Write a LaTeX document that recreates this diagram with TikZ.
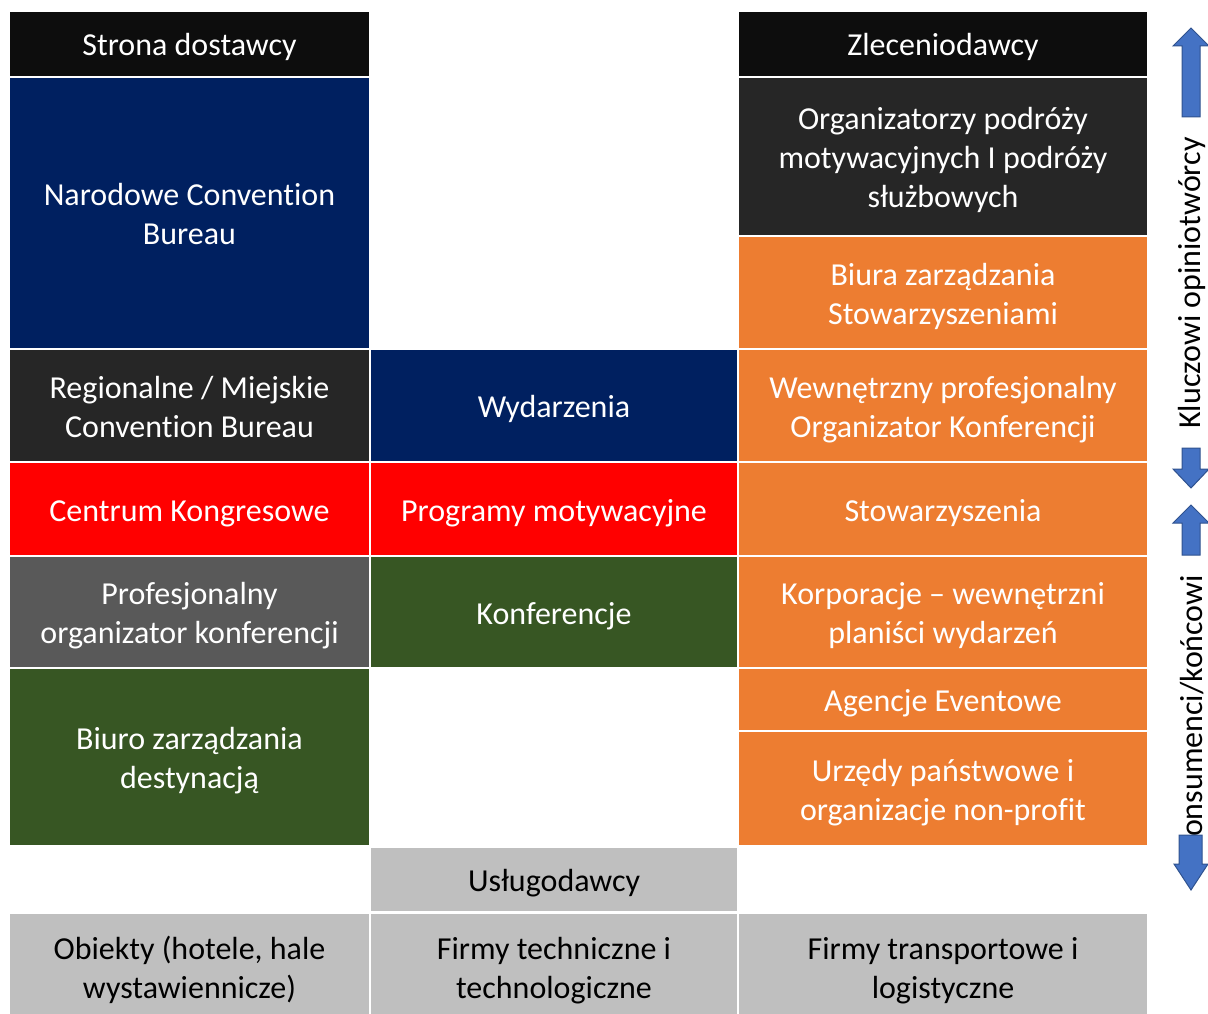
\documentclass[tikz,border=0pt]{standalone}
\usepackage{fontspec}
\setmainfont{Carlito}[Ligatures=NoCommon]
\usepackage{tikz}
\usetikzlibrary{calc}

\definecolor{navy}{HTML}{002060}
\definecolor{darkgrey}{HTML}{262626}
\definecolor{headblack}{HTML}{0D0D0D}
\definecolor{midgrey}{HTML}{595959}
\definecolor{lightgrey}{HTML}{BFBFBF}
\definecolor{orangebox}{HTML}{ED7D31}
\definecolor{redbox}{HTML}{FF0000}
\definecolor{greenbox}{HTML}{375623}
\definecolor{arrowblue}{HTML}{4472C4}
\definecolor{arrowedge}{HTML}{2F528F}

\newcommand{\cellstrut}{\rule[-7.5pt]{0pt}{39pt}}

\tikzset{
  cell/.style={rectangle, inner sep=0pt, align=flush center, text=white,
    font=\fontsize{32}{39}\selectfont,
    execute at begin node=\cellstrut, execute at end node=\cellstrut},
  darkcell/.style={cell, text=black},
  colL/.style={minimum width=359pt, text width=355pt},
  colM/.style={minimum width=366pt, text width=362pt},
  colR/.style={minimum width=408pt, text width=404pt},
  blockarrow/.style={fill=arrowblue, draw=arrowedge, line width=1pt},
  sidelabel/.style={rotate=90, inner sep=0pt, font=\fontsize{32}{39}\selectfont}
}

\begin{document}
\begin{tikzpicture}[x=1pt, y=-1pt]
                \useasboundingbox (0,0) rectangle (1208,1014);
                % naglowki
                \node[cell, colL, fill=headblack, minimum height=64pt] (strona) at (189.5,44) {Strona dostawcy};
                \node[cell, colR, fill=headblack, minimum height=64pt] (zlec) at (943,44) {Zleceniodawcy};
                % lewa kolumna
                \node[cell, colL, fill=navy, minimum height=270pt] (ncb) at (189.5,213) {Narodowe Convention\\Bureau};
                \node[cell, colL, fill=darkgrey, minimum height=111pt] (rcb) at (189.5,405.5) {Regionalne / Miejskie\\Convention Bureau};
                \node[cell, colL, fill=redbox, minimum height=92pt] (centrum) at (189.5,509) {Centrum Kongresowe};
                \node[cell, colL, fill=midgrey, minimum height=110pt] (pco) at (189.5,612) {Profesjonalny\\organizator konferencji};
                \node[cell, colL, fill=greenbox, minimum height=176pt] (dmo) at (189.5,757) {Biuro zarządzania\\destynacją};
                % srodkowa kolumna
                \node[cell, colM, fill=navy, minimum height=111pt] (wyd) at (554,405.5) {Wydarzenia};
                \node[cell, colM, fill=redbox, minimum height=92pt] (prog) at (554,509) {Programy motywacyjne};
                \node[cell, colM, fill=greenbox, minimum height=110pt] (konf) at (554,612) {Konferencje};
                \node[darkcell, colM, fill=lightgrey, minimum height=63pt] (usl) at (554,879.5) {Usługodawcy};
                % prawa kolumna
                \node[cell, colR, fill=darkgrey, minimum height=157pt] (org) at (943,156.5) {Organizatorzy podróży\\motywacyjnych I podróży\\służbowych};
                \node[cell, colR, fill=orangebox, minimum height=111pt] (amc) at (943,292.5) {Biura zarządzania\\Stowarzyszeniami};
                \node[cell, colR, fill=orangebox, minimum height=111pt] (wew) at (943,405.5) {Wewnętrzny profesjonalny\\Organizator Konferencji};
                \node[cell, colR, fill=orangebox, minimum height=92pt] (stow) at (943,509) {Stowarzyszenia};
                \node[cell, colR, fill=orangebox, minimum height=110pt] (korp) at (943,612) {Korporacje -- wewnętrzni\\planiści wydarzeń};
                \node[cell, colR, fill=orangebox, minimum height=61pt] (agen) at (943,699.5) {Agencje Eventowe};
                \node[cell, colR, fill=orangebox, minimum height=113pt] (urz) at (943,788.5) {Urzędy państwowe i\\organizacje non-profit};
                % dolny wiersz
                \node[darkcell, colL, fill=lightgrey, minimum height=106pt] (obiekty) at (189.5,967) {Obiekty (hotele, hale\\wystawiennicze)};
                \node[darkcell, colM, fill=lightgrey, minimum height=106pt] (firmytech) at (554,967) {Firmy techniczne i\\technologiczne};
                \node[darkcell, colR, fill=lightgrey, minimum height=106pt] (firmytrans) at (943,967) {Firmy transportowe i\\logistyczne};
                % strzalki z boku
                \node[sidelabel] (klucz) at (1192,283) {Kluczowi opiniotwórcy};
                \node[sidelabel] (kons) at (1192,714) {Konsumenci/końcowi};
                \draw[blockarrow] (1191,28) -- (1209,46) -- (1200,46) -- (1200,117) -- (1182,117) -- (1182,46) -- (1173,46) -- cycle;
                \draw[blockarrow] (1191,488) -- (1209,469) -- (1200,469) -- (1200,448) -- (1182,448) -- (1182,469) -- (1173,469) -- cycle;
                \draw[blockarrow] (1191,505) -- (1209,523) -- (1200,523) -- (1200,555) -- (1182,555) -- (1182,523) -- (1173,523) -- cycle;
                \draw[blockarrow] (1191,890) -- (1208,864) -- (1202,864) -- (1202,835) -- (1179,835) -- (1179,864) -- (1174,864) -- cycle;
            \end{tikzpicture}
\end{document}
